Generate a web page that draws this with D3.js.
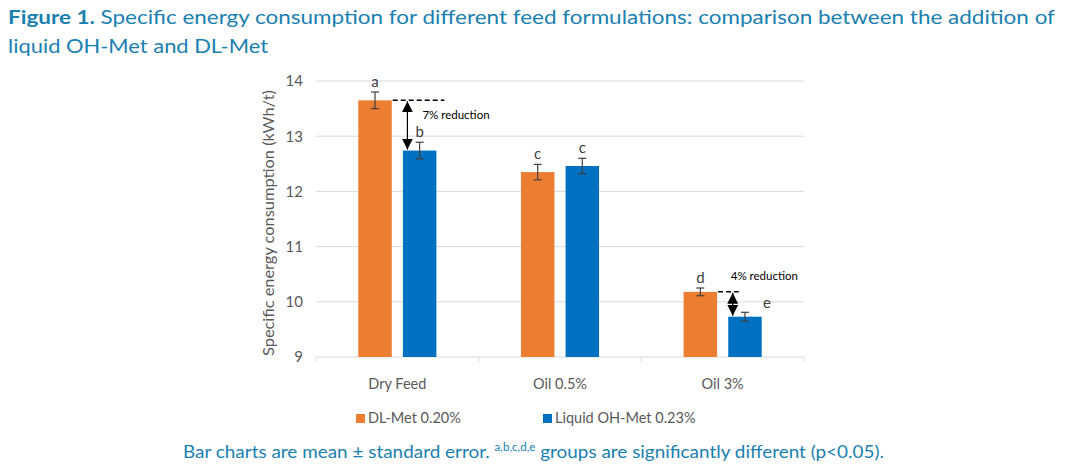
<!DOCTYPE html>
<html>
<head>
<meta charset="utf-8">
<script src="https://cdn.jsdelivr.net/npm/d3@7"></script>
<style>
  body { margin: 0; background: #fff; }
  svg { display: block; font-family: Lato, "Open Sans", sans-serif; }
</style>
</head>
<body>
<div id="chart"></div>
<script>
'use strict';

// chart values
const categories = ['Dry Feed', 'Oil 0.5%', 'Oil 3%'];
const seriesNames = ['DL-Met 0.20%', 'Liquid OH-Met 0.23%'];
const dlMetValues = [13.65, 12.35, 10.18];
const dlMetErrors = [0.15, 0.14, 0.07];
const ohMetValues = [12.74, 12.46, 9.73];
const ohMetErrors = [0.15, 0.14, 0.08];
const dlMetLetters = ['a', 'c', 'd'];
const ohMetLetters = ['b', 'c', 'e'];
const yTicks = [9, 10, 11, 12, 13, 14];
const reductions = [{ cat: 'Dry Feed', label: '7% reduction' }, { cat: 'Oil 3%', label: '4% reduction' }];

const colors = ['#ED7D31', '#0070C0'];
const titleColor = '#1a80b0';

const W = 1080, H = 476;
const margin = { left: 316, right: 276, top: 81, bottom: 119 };

const svg = d3.select('#chart').append('svg')
    .attr('width', W)
    .attr('height', H);

// title
const title = svg.append('g').attr('fill', titleColor).attr('font-size', 19.5);
let t1 = title.append('text')
    .attr('x', 8).attr('y', 24)
    .attr('textLength', 1047).attr('lengthAdjust', 'spacingAndGlyphs');
t1.append('tspan').attr('font-weight', 'bold').text('Figure 1.');
t1.append('tspan').text(' Specific energy consumption for different feed formulations: comparison between the addition of');
title.append('text')
    .attr('x', 8).attr('y', 53)
    .attr('textLength', 260).attr('lengthAdjust', 'spacingAndGlyphs')
    .text('liquid OH-Met and DL-Met');

// rows for every bar
const rows = categories.map((c, i) => ({
    cat: c,
    bars: [
        { s: 0, v: dlMetValues[i], e: dlMetErrors[i], l: dlMetLetters[i] },
        { s: 1, v: ohMetValues[i], e: ohMetErrors[i], l: ohMetLetters[i] }
    ]
}));

const x0 = d3.scaleBand()
    .domain(categories)
    .range([margin.left, W - margin.right])
    .paddingInner(0.52)
    .paddingOuter(0.26);

const x1 = d3.scaleBand()
    .domain([0, 1])
    .range([0, x0.bandwidth()])
    .paddingInner(0.25);

const y = d3.scaleLinear()
    .domain([9, 14])
    .range([H - margin.bottom, margin.top]);

// gridlines
svg.append('g')
    .selectAll('line')
    .data(yTicks.filter(d => d > 9))
    .join('line')
    .attr('x1', margin.left)
    .attr('x2', W - margin.right)
    .attr('y1', d => y(d))
    .attr('y2', d => y(d))
    .attr('stroke', '#d9d9d9')
    .attr('stroke-width', 1);

// y axis labels
svg.append('g')
    .attr('transform', `translate(${margin.left},0)`)
    .call(d3.axisLeft(y).tickValues(yTicks).tickFormat(d3.format('d')).tickSize(0).tickPadding(13))
    .call(g => g.select('.domain').remove())
    .call(g => g.selectAll('text')
        .attr('font-family', 'Lato, sans-serif')
        .attr('font-size', 15)
        .attr('fill', '#595959'));

svg.append('text')
    .attr('transform', 'translate(274,223) rotate(-90)')
    .attr('text-anchor', 'middle')
    .attr('font-size', 16)
    .attr('textLength', 266).attr('lengthAdjust', 'spacingAndGlyphs')
    .attr('fill', '#595959')
    .text('Specific energy consumption (kWh/t)');

// x axis
const xAxisG = svg.append('g')
    .attr('transform', `translate(0,${y(9)})`);
xAxisG.append('line')
    .attr('x1', margin.left).attr('x2', W - margin.right)
    .attr('stroke', '#d9d9d9');
const bounds = categories.map(c => x0(c) - x0.step() * x0.paddingInner() / 2)
    .concat([W - margin.right]);
xAxisG.selectAll('.tk')
    .data(bounds)
    .join('line')
    .attr('class', 'tk')
    .attr('x1', d => d).attr('x2', d => d)
    .attr('y1', 0).attr('y2', 5)
    .attr('stroke', '#d9d9d9');
xAxisG.selectAll('.cl')
    .data(categories)
    .join('text')
    .attr('class', 'cl')
    .attr('x', d => x0(d) + x0.bandwidth() / 2)
    .attr('y', 32)
    .attr('text-anchor', 'middle')
    .attr('font-size', 14.5)
    .attr('fill', '#595959')
    .text(d => d);

// bars
const groups = svg.append('g')
    .selectAll('g')
    .data(rows)
    .join('g')
    .attr('transform', d => `translate(${x0(d.cat)},0)`);

groups.selectAll('rect')
    .data(d => d.bars)
    .join('rect')
    .attr('x', d => x1(d.s))
    .attr('y', d => y(d.v))
    .attr('width', x1.bandwidth())
    .attr('height', d => y(9) - y(d.v))
    .attr('fill', d => colors[d.s]);

// error bars
const err = groups.selectAll('g.err')
    .data(d => d.bars)
    .join('g')
    .attr('class', 'err')
    .attr('stroke', '#404040')
    .attr('stroke-width', 1.2);
err.append('line')
    .attr('x1', d => x1(d.s) + x1.bandwidth() / 2)
    .attr('x2', d => x1(d.s) + x1.bandwidth() / 2)
    .attr('y1', d => y(d.v + d.e))
    .attr('y2', d => y(d.v - d.e));
[1, -1].forEach(k => {
    err.append('line')
        .attr('x1', d => x1(d.s) + x1.bandwidth() / 2 - 4)
        .attr('x2', d => x1(d.s) + x1.bandwidth() / 2 + 4)
        .attr('y1', d => y(d.v + k * d.e))
        .attr('y2', d => y(d.v + k * d.e));
});

// significance letters
groups.selectAll('text.sig')
    .data(d => d.bars)
    .join('text')
    .attr('class', 'sig')
    .attr('x', d => x1(d.s) + x1.bandwidth() / 2 + (d.l === 'e' ? 18 : 0))
    .attr('y', d => d.l === 'e' ? y(d.v) - 9 : y(d.v + d.e) - 5)
    .attr('text-anchor', d => d.l === 'e' ? 'start' : 'middle')
    .attr('font-size', 15)
    .attr('fill', '#404040')
    .text(d => d.l);

// reduction annotations
svg.append('defs').append('marker')
    .attr('id', 'arr')
    .attr('viewBox', '0 0 10 10')
    .attr('refX', 10).attr('refY', 5)
    .attr('markerWidth', 11).attr('markerHeight', 11)
    .attr('markerUnits', 'userSpaceOnUse')
    .attr('orient', 'auto-start-reverse')
    .append('path')
    .attr('d', 'M0,0L10,5L0,10z')
    .attr('fill', '#000');

reductions.forEach(r => {
    const i = categories.indexOf(r.cat);
    const top = y(dlMetValues[i]);
    const bot = y(ohMetValues[i]);
    const left = x0(r.cat) + x1(0) + x1.bandwidth();
    const ax = x0(r.cat) + x1(1) + 4.5;
    const dashEnd = i === 0 ? ax + 37 : ax + 6;
    svg.append('line')
        .attr('x1', left + 1).attr('x2', dashEnd)
        .attr('y1', top).attr('y2', top)
        .attr('stroke', '#000')
        .attr('stroke-width', 1.5)
        .attr('stroke-dasharray', '5,3');
    svg.append('line')
        .attr('x1', ax).attr('x2', ax)
        .attr('y1', top + 1).attr('y2', bot - 1)
        .attr('stroke', '#000')
        .attr('stroke-width', 1.2)
        .attr('marker-start', 'url(#arr)')
        .attr('marker-end', 'url(#arr)');
    svg.append('text')
        .attr('x', i === 0 ? ax + 15 : ax - 2)
        .attr('y', i === 0 ? top + 19 : top - 12)
        .attr('font-size', 11.5)
        .attr('fill', '#000')
        .text(r.label);
});

// legend
const legend = svg.append('g')
    .selectAll('g')
    .data(seriesNames)
    .join('g')
    .attr('transform', (d, i) => `translate(${i === 0 ? 356 : 543},423)`);
legend.append('rect')
    .attr('x', 0).attr('y', -9)
    .attr('width', 9).attr('height', 9)
    .attr('fill', (d, i) => colors[i]);
legend.append('text')
    .attr('x', 12).attr('y', 0)
    .attr('font-size', 14.5)
    .attr('fill', '#595959')
    .text(d => d);

// footnote
const foot = svg.append('text')
    .attr('x', 183).attr('y', 458)
    .attr('font-size', 18)
    .attr('textLength', 701).attr('lengthAdjust', 'spacingAndGlyphs')
    .attr('fill', titleColor);
foot.append('tspan').text('Bar charts are mean ± standard error. ');
foot.append('tspan').attr('font-size', 11).attr('dy', -7).text('a,b,c,d,e');
foot.append('tspan').attr('dy', 7).text(' groups are significantly different (p<0.05).');
</script>
</body>
</html>
